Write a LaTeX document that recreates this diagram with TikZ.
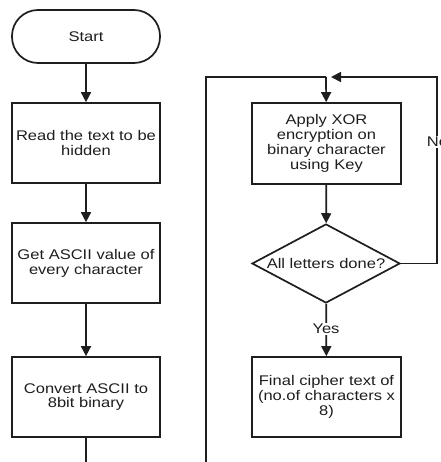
\documentclass[tikz,border=0pt]{standalone}
\usepackage{fontspec}
\setmainfont{Liberation Sans}[FakeStretch=1.18]
\usetikzlibrary{arrows.meta,shapes.geometric}
\definecolor{ink}{HTML}{1E1E1E}
\begin{document}
\begin{tikzpicture}[x=1pt,y=-1pt,
  every node/.style={font=\fontsize{14}{14.8}\selectfont, text=ink},
  procbox/.style={draw=ink, line width=1.7pt, rectangle, minimum width=148pt, minimum height=80pt, inner sep=0pt, text width=146pt, align=center},
  termbox/.style={draw=ink, line width=1.7pt, rectangle, rounded corners=26pt, minimum width=148pt, minimum height=53pt, inner sep=0pt},
  decbox/.style={draw=ink, line width=1.7pt, diamond, aspect=1.87, minimum width=148pt, minimum height=79pt, inner sep=0pt},
  flow/.style={draw=ink, line width=1.7pt},
  arr/.style={flow, -{Triangle[length=10pt,width=10pt]}},
  lbl/.style={fill=white, inner sep=1pt}
]
\useasboundingbox (0,0) rectangle (440,462);
\fill[white] (0,0) rectangle (440,462);

\node[termbox] (start) at (86,36.5) {Start};
\node[procbox] (read) at (86,143) {Read the text to be\\hidden};
\node[procbox] (ascii) at (86,263) {Get ASCII value of\\every character};
\node[procbox] (bin) at (86,397) {Convert ASCII to\\8bit binary};

\node[procbox, minimum width=149pt, minimum height=81pt] (xor) at (326.5,143.5) {Apply XOR\\encryption on\\binary character\\using Key};
\node[decbox] (done) at (326,263.5) {All letters done?};
\node[procbox, minimum width=149pt] (final) at (326.5,397) {Final cipher text of\\(no.of characters x\\8)};

\coordinate (binend) at (86,462);
\coordinate (lb) at (206,462);
\coordinate (lt) at (206,77);
\coordinate (jn) at (326,77);
\coordinate (rt) at (437,77);
\coordinate (rb) at (437,263.5);
\coordinate (tip) at (331,77);

\draw[arr] (start) -- (read);
\draw[arr] (read) -- (ascii);
\draw[arr] (ascii) -- (bin);
\draw[flow] (bin) -- (binend);

\draw[flow] (lb) -- (lt) -- (jn);
\draw[arr] (jn) -- (xor);
\draw[arr] (xor) -- (done);
\draw[arr] (done.east) -- (rb) -- (rt) -- (tip);
\draw[arr] (done) -- (final);

\node[lbl] (no) at (437.5,142) {No};
\node[lbl] (yes) at (326,329) {Yes};
\end{tikzpicture}
\end{document}
